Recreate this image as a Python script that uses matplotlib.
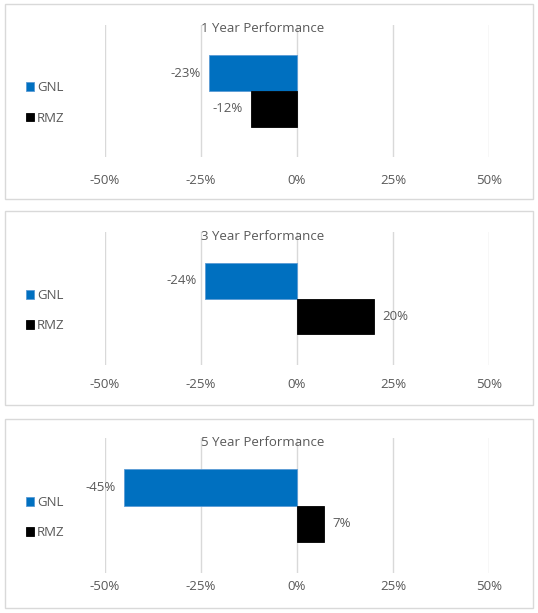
"""
GNL vs RMZ performance over 1, 3 and 5 years, three stacked horizontal bar panels.
"""

import matplotlib
matplotlib.use("Agg")
import matplotlib.pyplot as plt
from matplotlib.patches import Rectangle

tickers = ["GNL", "RMZ"]
periods = ["1 Year Performance", "3 Year Performance", "5 Year Performance"]
gnl_perf = [-23, -24, -45]
rmz_perf = [-12, 20, 7]
tick_vals = [-50, -25, 0, 25, 50]
tick_labels = ["-50%", "-25%", "0%", "25%", "50%"]

colors = {"GNL": "#0070C0", "RMZ": "#000000"}
text_col = "#595959"
grid_col = "#d9d9d9"
FS = 9.5

W, H = 538, 613
# pixel geometry for each panel: (box_top, box_bottom, grid_top, grid_bottom, title_y, tick_y)
panels_px = [
    (4, 199, 25, 157, 28, 180),
    (211, 405, 232, 365, 236, 385),
    (419, 608, 438, 573, 442, 587),
]

plt.rcParams["font.family"] = ["Open Sans", "DejaVu Sans"]

fig = plt.figure(figsize=(W / 100, H / 100), dpi=100)
fig.patch.set_facecolor("white")


def fx(px):
    return px / W


def fy(py):
    return 1 - py / H


for i, (btop, bbot, gtop, gbot, ty, tky) in enumerate(panels_px):
    # panel border
    fig.patches.append(Rectangle((fx(5), fy(bbot)), fx(528), (bbot - btop) / H,
                                 transform=fig.transFigure, fill=False,
                                 edgecolor=grid_col, linewidth=1.0, zorder=0))

    ax = fig.add_axes([fx(105), fy(gbot), fx(384), (gbot - gtop) / H])
    vals = [gnl_perf[i], rmz_perf[i]]
    ypos = [1, 0]
    bars = []
    for t, v, yp in zip(tickers, vals, ypos):
        b = ax.barh(yp, v, height=1.0, color=colors[t], edgecolor="#000000" if t == "RMZ" else "#5b9bd5",
                    linewidth=0.6, label=t, zorder=3)
        bars.append(b)
        ax.bar_label(b, labels=[f"{v}%"], padding=6, color=text_col, fontsize=FS)

    ax.set_xlim(-50, 50)
    ax.set_ylim(-1.35, 2.35)
    ax.set_xticks(tick_vals)
    ax.xaxis.grid(True, color=grid_col, linewidth=1.0, zorder=0)
    ax.set_yticks([])
    ax.tick_params(axis="x", length=0, labelbottom=False)
    for s in ax.spines.values():
        s.set_visible(False)
    ax.set_facecolor("none")

    for tv, tl in zip(tick_vals, tick_labels):
        fig.text(fx(105 + (tv + 50) * 384 / 100), fy(tky), tl, ha="center", va="center",
                 color=text_col, fontsize=FS)

    fig.text(fx(263), fy(ty), periods[i], ha="center", va="center", color=text_col, fontsize=FS)

    gnl_y = fy(gtop + (gbot - gtop) * 0.47)
    ax.legend(handles=[bars[0], bars[1]], labels=tickers, loc="center left",
              bbox_to_anchor=(fx(14), gnl_y - 16 / H), bbox_transform=fig.transFigure,
              frameon=False, handlelength=0.65, handleheight=0.65, handletextpad=0.2,
              labelspacing=1.3, fontsize=FS, labelcolor=text_col)

fig.savefig("out.png", dpi=100)
